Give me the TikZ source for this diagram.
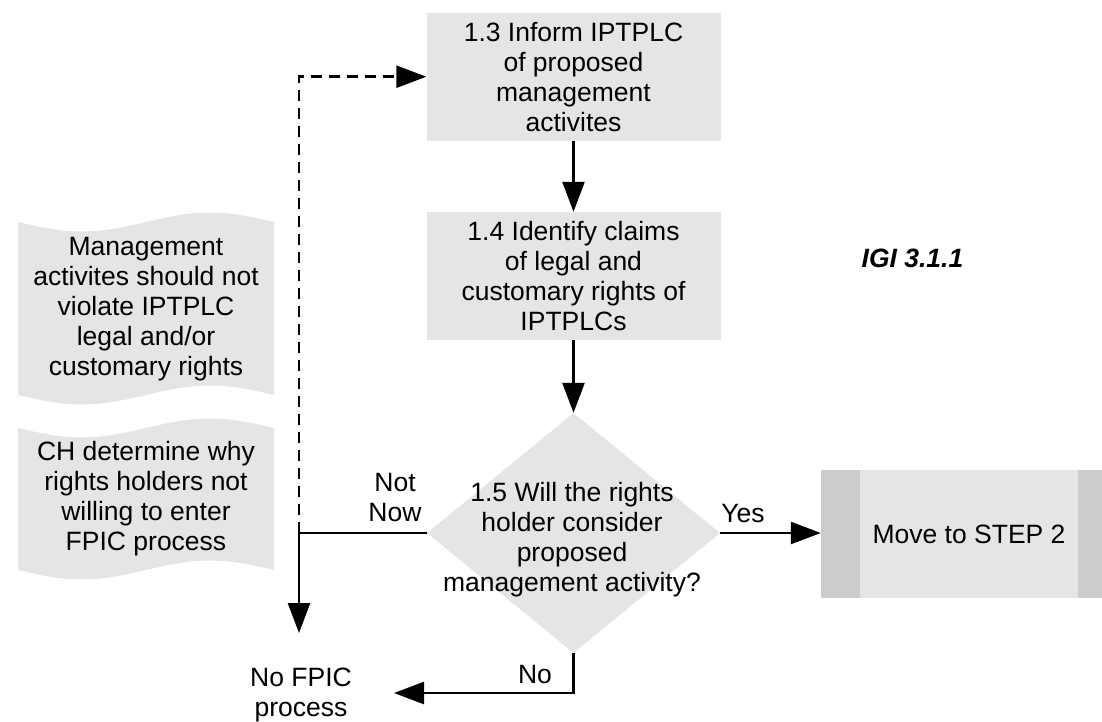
\documentclass[tikz,border=0pt]{standalone}
\usepackage{fontspec}
\setmainfont{Liberation Sans}
\usetikzlibrary{arrows.meta,shapes.geometric}
\definecolor{boxgray}{HTML}{E5E5E5}
\definecolor{bargray}{HTML}{CCCCCC}
\begin{document}
\begin{tikzpicture}[x=1pt,y=-1pt,
  txt/.style={font=\fontsize{26.5}{30}\selectfont, align=center, inner sep=0pt},
  procbox/.style={txt, fill=boxgray, minimum width=294pt, minimum height=128pt},
  decision/.style={diamond, fill=boxgray, inner sep=0pt, minimum width=293pt, minimum height=240pt},
  subproc/.style={txt, fill=boxgray, minimum width=296pt, minimum height=128pt,
    path picture={
      \fill[bargray] (path picture bounding box.south west) rectangle ([xshift=39pt]path picture bounding box.north west);
      \fill[bargray] (path picture bounding box.north east) rectangle ([xshift=-39pt]path picture bounding box.south east);}},
  arr/.style={line width=2.5pt, -{Triangle[length=30pt,width=22pt]}},
  dasharr/.style={arr, dash pattern=on 11pt off 7pt}]
\useasboundingbox (0,0) rectangle (1102,722);
\clip (0,0) rectangle (1102,722);

% wavy note shapes on the left
\fill[boxgray] (18,222) sin (82,231.5) cos (146,222) sin (210,212.5) cos (274,222)
  -- (274,395) sin (210,385.5) cos (146,395) sin (82,404.5) cos (18,395) -- cycle;
\fill[boxgray] (18,428) sin (82,437.5) cos (146,428) sin (210,418.5) cos (274,428)
  -- (274,570) sin (210,560.5) cos (146,570) sin (82,579.5) cos (18,570) -- cycle;
\node[txt] (note1) at (146,309) {Management\\activites should not\\violate IPTPLC\\legal and/or\\customary rights};
\node[txt] (note2) at (146,499) {CH determine why\\rights holders not\\willing to enter\\FPIC process};

% main flow
\node[procbox] (n13) at (573.5,76.7) {1.3 Inform IPTPLC\\of proposed\\management\\activites};
\node[procbox] (n14) at (573.5,276) {1.4 Identify claims\\of legal and\\customary rights of\\IPTPLCs};
\node[decision] (d15) at (573.5,533) {};
\node[txt] (d15text) at (572,540) {1.5 Will the rights\\holder consider\\proposed\\management activity?};
\node[subproc] (step2) at (969,534) {Move to STEP 2};
\node[txt] (nofpic) at (301,695) {No FPIC\\process};
\node[txt, font=\fontsize{26.5}{30}\selectfont\bfseries\itshape] (igi) at (912.5,258) {IGI 3.1.1};

% connector end points
\coordinate (jn) at (299,533);
\coordinate (nowEnd) at (299,633);
\coordinate (noEnd) at (394,693);

% connectors
\draw[arr] (n13) -- (n14);
\draw[arr] (n14) -- (d15.north);
\draw[arr] (d15.east) -- (d15.east -| step2.west);
\draw[arr] (d15.west) -- (jn) -- (nowEnd);
\draw[arr] (d15.south) |- (noEnd);
\draw[dasharr] (jn) |- (n13.west);

% connector labels
\node[txt] (lblyes) at (743,514) {Yes};
\node[txt] (lblnotnow) at (395,498) {Not\\Now};
\node[txt] (lblno) at (535,675) {No};
\end{tikzpicture}
\end{document}
